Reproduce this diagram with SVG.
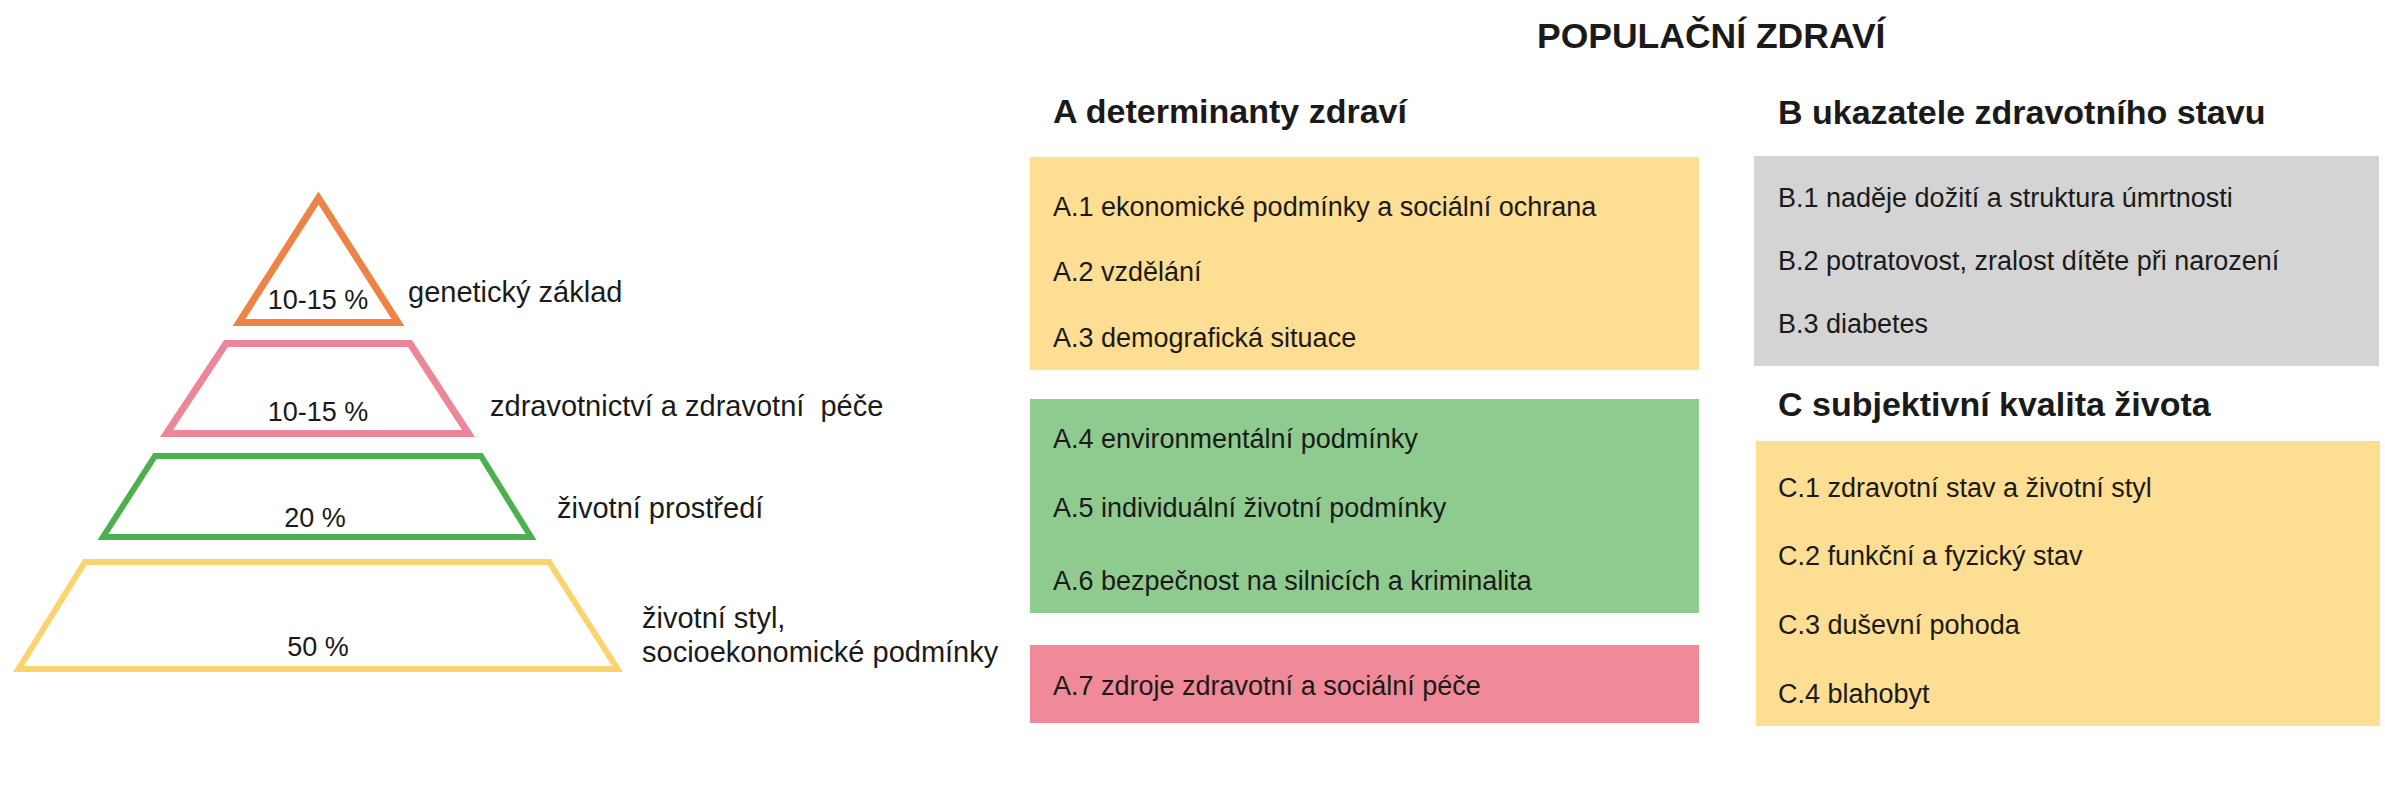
<svg xmlns="http://www.w3.org/2000/svg" width="2385" height="800" viewBox="0 0 2385 800">
<style>
  text { font-family: "Liberation Sans", Arial, sans-serif; fill: #1a1a1a; }
  .title { font-size: 35.5px; font-weight: bold; }
  .hdr { font-size: 34px; font-weight: bold; }
  .item { font-size: 27px; }
  .pct { font-size: 27px; text-anchor: middle; }
  .lbl { font-size: 29px; }
  .tier { fill: none; stroke-linejoin: miter; stroke-miterlimit: 10; }
</style>
<rect width="2385" height="800" fill="#ffffff"/>

<g id="title">
  <text class="title" x="1537" y="48">POPULAČNÍ ZDRAVÍ</text>
</g>

<g id="pyramid">
  <g id="tier-genetic">
    <polygon class="tier" points="318.5,198 239,322.5 398,322.5" stroke="#ED8446" stroke-width="7"/>
    <text class="pct" x="318" y="309">10-15 %</text>
    <text class="lbl" x="408" y="302">genetický základ</text>
  </g>
  <g id="tier-healthcare">
    <polygon class="tier" points="226,343.5 410,343.5 468.5,433.5 166.5,433.5" stroke="#EC8797" stroke-width="7"/>
    <text class="pct" x="318" y="421">10-15 %</text>
    <text class="lbl" x="490" y="416" xml:space="preserve">zdravotnictví a zdravotní  péče</text>
  </g>
  <g id="tier-environment">
    <polygon class="tier" points="155,456 481,456 531,537 103,537" stroke="#4DB04E" stroke-width="6"/>
    <text class="pct" x="315" y="527">20 %</text>
    <text class="lbl" x="557" y="518">životní prostředí</text>
  </g>
  <g id="tier-lifestyle">
    <polygon class="tier" points="85,562 549,562 617.5,669 18.5,669" stroke="#FCD46E" stroke-width="6"/>
    <text class="pct" x="318" y="656">50 %</text>
    <text class="lbl" x="642" y="628">životní styl,</text>
    <text class="lbl" x="642" y="662">socioekonomické podmínky</text>
  </g>
</g>

<g id="group-A">
  <text class="hdr" x="1053" y="123">A determinanty zdraví</text>
  <g id="box-A1-3">
    <rect x="1030" y="157" width="669" height="213" fill="#FDDE92"/>
    <text class="item" x="1053" y="216">A.1 ekonomické podmínky a sociální ochrana</text>
    <text class="item" x="1053" y="281">A.2 vzdělání</text>
    <text class="item" x="1053" y="347">A.3 demografická situace</text>
  </g>
  <g id="box-A4-6">
    <rect x="1030" y="399" width="669" height="214" fill="#8FCB8F"/>
    <text class="item" x="1053" y="448">A.4 environmentální podmínky</text>
    <text class="item" x="1053" y="517">A.5 individuální životní podmínky</text>
    <text class="item" x="1053" y="590">A.6 bezpečnost na silnicích a kriminalita</text>
  </g>
  <g id="box-A7">
    <rect x="1030" y="645" width="669" height="78" fill="#F18A98"/>
    <text class="item" x="1053" y="695">A.7 zdroje zdravotní a sociální péče</text>
  </g>
</g>

<g id="group-B">
  <text class="hdr" x="1778" y="124">B ukazatele zdravotního stavu</text>
  <g id="box-B">
    <rect x="1754" y="156" width="625" height="210" fill="#D4D4D4"/>
    <text class="item" x="1778" y="207">B.1 naděje dožití a struktura úmrtnosti</text>
    <text class="item" x="1778" y="270">B.2 potratovost, zralost dítěte při narození</text>
    <text class="item" x="1778" y="333">B.3 diabetes</text>
  </g>
</g>

<g id="group-C">
  <text class="hdr" x="1778" y="416">C subjektivní kvalita života</text>
  <g id="box-C">
    <rect x="1756" y="441" width="624" height="285" fill="#FDDE92"/>
    <text class="item" x="1778" y="497">C.1 zdravotní stav a životní styl</text>
    <text class="item" x="1778" y="565">C.2 funkční a fyzický stav</text>
    <text class="item" x="1778" y="634">C.3 duševní pohoda</text>
    <text class="item" x="1778" y="703">C.4 blahobyt</text>
  </g>
</g>

<g id="connectors"/>
</svg>
